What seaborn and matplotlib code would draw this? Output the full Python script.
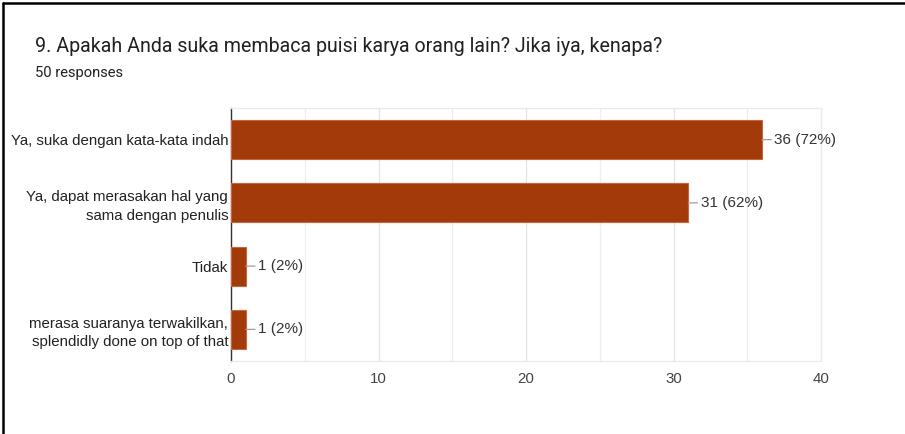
import matplotlib
matplotlib.use("Agg")
import matplotlib.pyplot as plt
from matplotlib.lines import Line2D
from matplotlib.ticker import MultipleLocator
import seaborn as sns
import pandas as pd

title = "9. Apakah Anda suka membaca puisi karya orang lain? Jika iya, kenapa?"
subtitle = "50 responses"
categories = [
    "Ya, suka dengan kata-kata indah",
    "Ya, dapat merasakan hal yang\nsama dengan penulis",
    "Tidak",
    "merasa suaranya terwakilkan,\nsplendidly done on top of that",
]
counts = [36, 31, 1, 1]
total = 50
x_ticks = [0, 10, 20, 30, 40]

sns.set_theme(style="white")
plt.rcParams["font.family"] = ["Liberation Sans", "DejaVu Sans"]

W, H = 905, 434
fig = plt.figure(figsize=(W / 100, H / 100), dpi=100)
ax = fig.add_axes([231 / W, 1 - 361 / H, (821 - 231) / W, (361 - 108) / H])

df = pd.DataFrame({"cat": categories, "n": counts})
bar_color = "#A33A0A"
sns.barplot(data=df, x="n", y="cat", orient="h", color=bar_color, width=0.62,
            edgecolor="#C8653F", linewidth=0.8, saturation=1, ax=ax, zorder=3)

ax.set_xlim(0, 40)
ax.xaxis.set_minor_locator(MultipleLocator(5))
ax.set_xticks(x_ticks)
ax.grid(axis="x", which="major", color="#E3E3E3", lw=0.9, zorder=0)
ax.grid(axis="x", which="minor", color="#EEEEEE", lw=0.9, zorder=0)
ax.set_axisbelow(True)
ax.set_xlabel("")
ax.set_ylabel("")

for side in ["top", "right", "bottom"]:
    ax.spines[side].set_color("#EBEBEB")
    ax.spines[side].set_linewidth(0.9)
ax.spines["left"].set_color("#333333")
ax.spines["left"].set_linewidth(1.0)

ax.tick_params(axis="y", length=0, pad=2, labelsize=10.8, labelcolor="#222222")
ax.tick_params(axis="x", which="both", length=0, pad=8, labelsize=10.8, labelcolor="#444444")
for lbl in ax.get_yticklabels():
    lbl.set_linespacing(1.4)

for i, v in enumerate(counts):
    pct = round(100 * v / total)
    ax.annotate(f"{v} ({pct}%)", xy=(v, i), xycoords="data",
                xytext=(9, 0), textcoords="offset points",
                ha="left", va="center", fontsize=11, color="#333333",
                arrowprops=dict(arrowstyle="-", color="#9E9E9E", lw=0.9,
                                shrinkA=0, shrinkB=0))

fig.text(35 / W, 1 - 47 / H, title, fontsize=14.1, color="#202124",
         family=["Roboto", "DejaVu Sans"], ha="left", va="center")
fig.text(35 / W, 1 - 73 / H, subtitle, fontsize=10.6, color="#202124",
         family=["Roboto", "DejaVu Sans"], ha="left", va="center")

fig.add_artist(Line2D([3 / W, 3 / W], [0, 1 - 3 / H], transform=fig.transFigure,
                      color="black", lw=1.8))
fig.add_artist(Line2D([3 / W, 1], [1 - 3 / H, 1 - 3 / H], transform=fig.transFigure,
                      color="black", lw=1.8))

fig.savefig("out.png", dpi=100, facecolor="white")
